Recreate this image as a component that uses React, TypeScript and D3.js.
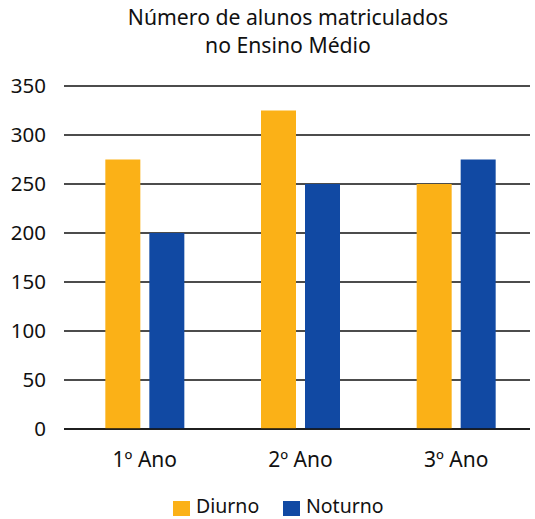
import React from 'react';
import * as d3 from 'd3';

const categories = ['1º Ano', '2º Ano', '3º Ano'];
const seriesNames = ['Diurno', 'Noturno'];
const diurno = [275, 325, 250];
const noturno = [200, 250, 275];
const yTicks = [0, 50, 100, 150, 200, 250, 300, 350];
const titleLines = ['Número de alunos matriculados', 'no Ensino Médio'];

const colors = ['#FBB117', '#1149A3'];
const font = '"Noto Sans", "Open Sans", sans-serif';

export default function App() {
  const width = 535;
  const height = 519;

  const x0 = d3.scaleBand<string>().domain(categories).range([67, 534]).paddingInner(0);
  const x1 = d3.scaleBand<string>().domain(seriesNames).range([0, 79]).paddingInner(9 / 44).paddingOuter(0);
  const y = d3.scaleLinear().domain([0, 350]).range([429, 86]);

  const values = [diurno, noturno];
  const bw = x1.bandwidth();
  const groupOffset = (x0.bandwidth() - 79) / 2;

  return (
    <svg width={width} height={height} style={{ position: 'absolute', left: 0, top: 0, background: '#fff' }}>
      {titleLines.map((t, i) => (
        <text key={t} x={288} y={25 + i * 28} textAnchor="middle" fontFamily={font} fontSize={21.2} fill="#111">
          {t}
        </text>
      ))}
      {yTicks.map(t => (
        <g key={t}>
          <line x1={64} x2={530} y1={y(t)} y2={y(t)} stroke="#111" strokeWidth={1.5} />
          <text x={46} y={y(t)} dy="0.36em" textAnchor="end" fontFamily={font} fontSize={20.5} fill="#111">
            {t}
          </text>
        </g>
      ))}
      {categories.map((c, ci) => (
        <g key={c} transform={`translate(${(x0(c) ?? 0) + groupOffset},0)`}>
          {seriesNames.map((s, si) => (
            <rect
              key={s}
              x={x1(s)}
              y={y(values[si][ci])}
              width={bw}
              height={y(0) - y(values[si][ci])}
              fill={colors[si]}
            />
          ))}
        </g>
      ))}
      <line x1={64} x2={530} y1={y(0)} y2={y(0)} stroke="#111" strokeWidth={1.5} />
      {categories.map(c => (
        <text
          key={c}
          x={(x0(c) ?? 0) + x0.bandwidth() / 2}
          y={467}
          textAnchor="middle"
          fontFamily={font}
          fontSize={21}
          fill="#111"
        >
          {c}
        </text>
      ))}
      {seriesNames.map((s, i) => {
        const lx = [173, 283][i];
        return (
          <g key={s}>
            <rect x={lx} y={501} width={17} height={15} fill={colors[i]} />
            <text x={lx + 23} y={513} fontFamily={font} fontSize={19.5} fill="#111">
              {s}
            </text>
          </g>
        );
      })}
    </svg>
  );
}
